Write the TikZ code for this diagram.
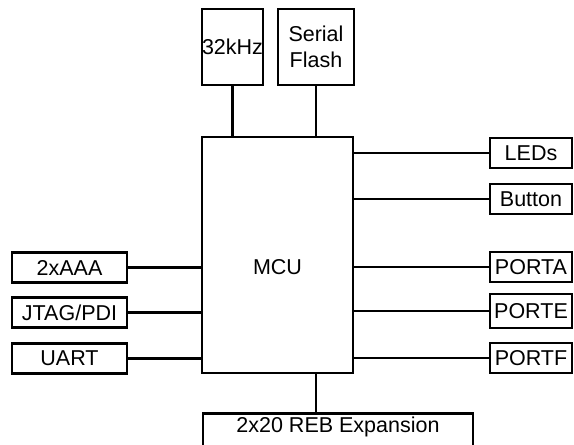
\documentclass[tikz,border=0pt]{standalone}
\usepackage{fontspec}
\setmainfont{Liberation Sans}

\begin{document}
\begin{tikzpicture}[
      x=1pt, y=-1pt,
      font=\fontsize{21.5}{26}\selectfont,
      box/.style={rectangle, draw=black, line width=2.6pt, inner sep=0pt, minimum height=30pt},
      sidebox/.style={box, minimum width=115pt},
      portbox/.style={box, minimum width=82pt},
      wire/.style={line width=2.2pt}
    ]
      \useasboundingbox (0,0) rectangle (574,445);
      \clip (0,0) rectangle (574,445);

      % top parts
      \node[box, minimum width=61pt, minimum height=76pt] (khz) at (232.5,47) {32kHz};
      \node[box, minimum width=76pt, minimum height=76pt, align=center] (flash) at (316,47) {Serial\\Flash};

      % controller
      \node[box, minimum width=151pt, minimum height=236pt] (mcu) at (277.5,255) {};

      % left side
      \node[sidebox] (aaa) at (69.5,267.5) {2xAAA};
      \node[sidebox] (jtag) at (69.5,312.5) {JTAG/PDI};
      \node[sidebox] (uart) at (69.5,358.5) {UART};

      % right side
      \node[portbox] (leds) at (531,153) {LEDs};
      \node[portbox] (button) at (531,199) {Button};
      \node[portbox] (porta) at (531,267) {PORTA};
      \node[portbox, minimum height=34pt] (porte) at (531,311) {PORTE};
      \node[portbox] (portf) at (531,358) {PORTF};

      \node (mcutext) at (mcu.center |- porta.center) {MCU};

      % expansion header
      \node[box, anchor=north, minimum width=270pt, text height=19pt, text depth=30pt] (exp) at (338,412) {2x20 REB Expansion};

      % connections
      \draw[wire] (khz.south) -- (khz.south |- mcu.north);
      \draw[wire] (flash.south) -- (flash.south |- mcu.north);
      \draw[wire] (flash.south |- mcu.south) -- (flash.south |- exp.north);
      \foreach \n in {aaa,jtag,uart}
        \draw[wire] (\n.east) -- (\n.east -| mcu.west);
      \foreach \n in {leds,button,porta,porte,portf}
        \draw[wire] (\n.west -| mcu.east) -- (\n.west);
    \end{tikzpicture}
\end{document}
